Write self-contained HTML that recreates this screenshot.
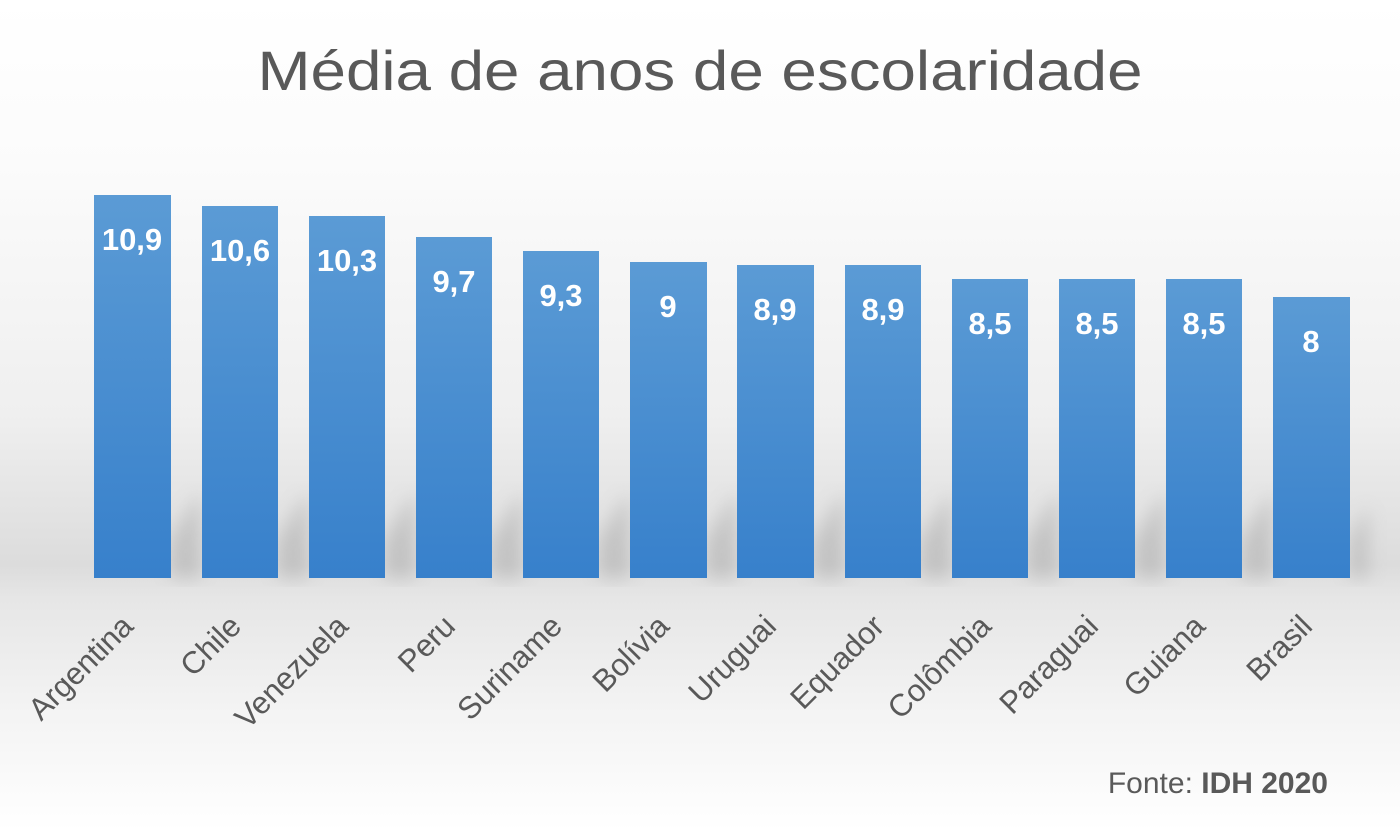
<!DOCTYPE html>
<html><head><meta charset="utf-8"><style>
html,body{margin:0;padding:0;}
body{width:1400px;height:831px;overflow:hidden;background:#fff;}
</style></head><body>
<svg width="1400" height="831" xmlns="http://www.w3.org/2000/svg" font-family="'Liberation Sans', sans-serif">
<defs>
<linearGradient id="bg" x1="0" y1="0" x2="0" y2="1">
<stop offset="0" stop-color="#ffffff"/>
<stop offset="0.2" stop-color="#fbfbfb"/>
<stop offset="0.5" stop-color="#efefef"/>
<stop offset="0.68" stop-color="#dcdcdc"/>
<stop offset="0.72" stop-color="#e6e6e6"/>
<stop offset="0.85" stop-color="#f3f3f3"/>
<stop offset="1" stop-color="#ffffff"/>
</linearGradient>
<linearGradient id="bar" x1="0" y1="0" x2="0" y2="1">
<stop offset="0" stop-color="#5b9bd5"/>
<stop offset="1" stop-color="#3780cb"/>
</linearGradient>
<filter id="blur"><feGaussianBlur stdDeviation="9"/></filter>
</defs>
<rect width="1400" height="831" fill="url(#bg)"/>
<text x="700" y="90" text-anchor="middle" font-size="56" fill="#595959" textLength="885" lengthAdjust="spacingAndGlyphs">Média de anos de escolaridade</text>
<g fill="#9a9a9a" opacity="0.4" filter="url(#blur)">
<polygon points="171,578 171,540 200,490 200,578"/>
<polygon points="278,578 278,540 308,490 308,578"/>
<polygon points="385,578 385,540 415,490 415,578"/>
<polygon points="492,578 492,540 522,490 522,578"/>
<polygon points="599,578 599,540 629,490 629,578"/>
<polygon points="707,578 707,540 736,490 736,578"/>
<polygon points="814,578 814,540 844,490 844,578"/>
<polygon points="921,578 921,540 951,490 951,578"/>
<polygon points="1028,578 1028,540 1058,490 1058,578"/>
<polygon points="1135,578 1135,540 1165,490 1165,578"/>
<polygon points="1242,578 1242,540 1272,490 1272,578"/>
<polygon points="1350,578 1350,540 1368,505 1368,578"/>
</g>
<g fill="url(#bar)">
<rect x="94" y="195" width="77" height="383"/>
<rect x="202" y="206" width="76" height="372"/>
<rect x="309" y="216" width="76" height="362"/>
<rect x="416" y="237" width="76" height="341"/>
<rect x="523" y="251" width="76" height="327"/>
<rect x="630" y="262" width="77" height="316"/>
<rect x="737" y="265" width="77" height="313"/>
<rect x="845" y="265" width="76" height="313"/>
<rect x="952" y="279" width="76" height="299"/>
<rect x="1059" y="279" width="76" height="299"/>
<rect x="1166" y="279" width="76" height="299"/>
<rect x="1273" y="297" width="77" height="281"/>
</g>
<g fill="#fff" font-size="31" font-weight="bold" text-anchor="middle">
<text x="132" y="250">10,9</text>
<text x="240" y="261">10,6</text>
<text x="347" y="271">10,3</text>
<text x="454" y="292">9,7</text>
<text x="561" y="306">9,3</text>
<text x="668" y="317">9</text>
<text x="775" y="320">8,9</text>
<text x="883" y="320">8,9</text>
<text x="990" y="334">8,5</text>
<text x="1097" y="334">8,5</text>
<text x="1204" y="334">8,5</text>
<text x="1311" y="352">8</text>
</g>
<g fill="#595959" font-size="31" text-anchor="end">
<text transform="translate(135,628) rotate(-45)">Argentina</text>
<text transform="translate(243,628) rotate(-45)">Chile</text>
<text transform="translate(350,628) rotate(-45)">Venezuela</text>
<text transform="translate(457,628) rotate(-45)">Peru</text>
<text transform="translate(564,628) rotate(-45)">Suriname</text>
<text transform="translate(671,628) rotate(-45)">Bolívia</text>
<text transform="translate(778,628) rotate(-45)">Uruguai</text>
<text transform="translate(886,628) rotate(-45)">Equador</text>
<text transform="translate(993,628) rotate(-45)">Colômbia</text>
<text transform="translate(1100,628) rotate(-45)">Paraguai</text>
<text transform="translate(1207,628) rotate(-45)">Guiana</text>
<text transform="translate(1314,628) rotate(-45)">Brasil</text>
</g>
<text x="1328" y="793" text-anchor="end" font-size="30" fill="#595959">Fonte: <tspan font-weight="bold">IDH 2020</tspan></text>
</svg>
</body></html>
